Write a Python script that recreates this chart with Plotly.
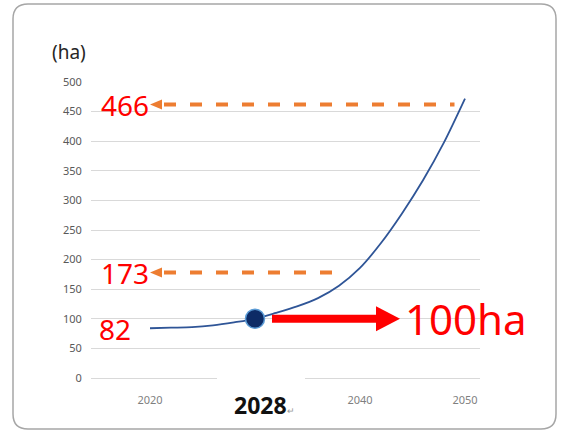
import plotly.graph_objects as go

# ---- data ----
years = [2020, 2022, 2024, 2026, 2028, 2030, 2032, 2034, 2036, 2038, 2040, 2042, 2044, 2046, 2048, 2050]
area_ha = [84, 85, 86, 89, 94, 100, 110, 121, 135, 156, 186, 228, 278, 334, 398, 472]
x_tick_years = [2020, 2040, 2050]
y_ticks = [0, 50, 100, 150, 200, 250, 300, 350, 400, 450, 500]

target_year = 2030
target_value = 100
target_label = "100ha"
milestone_label = "2028"

callout_labels = ["466", "173"]
callout_levels = [462, 178]
callout_ends = [2049.0, 2038.4]
start_label = "82"
start_level = 82
unit_label = "(ha)"

# ---- layout geometry (pixels) ----
W, H = 563, 432
L, R, T, B = 91, 480, 82, 378
PX_PER_YEAR = 10.5
x_min = 2020 - (150 - L) / PX_PER_YEAR
x_max = 2050 + (R - 465) / PX_PER_YEAR


def px_x(p):
    return (p - L) / (R - L)


def px_y(p):
    return 1 - (p - T) / (B - T)


RED = "#ff0000"
ORANGE = "#ed7d31"
FONT = "Noto Sans"

fig = go.Figure()
fig.add_trace(go.Scatter(
    x=years, y=area_ha, mode="lines",
    line=dict(color="#2f5597", width=1.8, shape="spline", smoothing=0.8),
    hoverinfo="skip", showlegend=False))
fig.add_trace(go.Scatter(
    x=[target_year], y=[target_value], mode="markers",
    marker=dict(size=19, color="#0d2b66", line=dict(color="#5b9bd5", width=1.5)),
    showlegend=False))

shapes = []
# rounded border
x0, x1 = px_x(13), px_x(556)
y0, y1 = px_y(429), px_y(4)
rx, ry = 15 / (R - L), 15 / (B - T)
border = (f"M{x0+rx},{y1} L{x1-rx},{y1} Q{x1},{y1} {x1},{y1-ry} "
          f"L{x1},{y0+ry} Q{x1},{y0} {x1-rx},{y0} L{x0+rx},{y0} "
          f"Q{x0},{y0} {x0},{y0+ry} L{x0},{y1-ry} Q{x0},{y1} {x0+rx},{y1} Z")
shapes.append(dict(type="path", xref="paper", yref="paper", path=border,
                   line=dict(color="#a6a6a6", width=1.5), layer="below"))
# white box hiding the original 2030 label
shapes.append(dict(type="rect", xref="paper", yref="paper",
                   x0=px_x(217), x1=px_x(305), y0=px_y(425), y1=px_y(373),
                   fillcolor="white", line=dict(width=0), layer="above"))
# orange dashed callouts
for lvl, xe in zip(callout_levels, callout_ends):
    shapes.append(dict(type="line", xref="x", yref="y",
                       x0=2020 + 14 / PX_PER_YEAR, x1=xe, y0=lvl, y1=lvl,
                       line=dict(color=ORANGE, width=4, dash="12px,14px"), layer="above"))
    shapes.append(dict(type="path", xref="x", yref="y", xsizemode="pixel", ysizemode="pixel",
                       xanchor=2020, yanchor=lvl, path="M0,0 L12,5 L12,-5 Z",
                       fillcolor=ORANGE, line=dict(width=0), layer="above"))
# red arrow
shapes.append(dict(type="line", xref="x", yref="y", xsizemode="pixel",
                   xanchor=target_year, x0=17, x1=124, y0=target_value, y1=target_value,
                   line=dict(color=RED, width=8), layer="above"))
shapes.append(dict(type="path", xref="x", yref="y", xsizemode="pixel", ysizemode="pixel",
                   xanchor=target_year, yanchor=target_value,
                   path="M121,12.5 L145,0 L121,-12.5 Z",
                   fillcolor=RED, line=dict(width=0), layer="above"))

annotations = []
for lab, lvl in zip(callout_labels, callout_levels):
    annotations.append(dict(x=2020, y=lvl, xref="x", yref="y", xshift=-51, xanchor="left",
                            yanchor="middle", text=lab, showarrow=False,
                            font=dict(family=FONT, size=28, color=RED)))
annotations.append(dict(x=2020, y=start_level, xref="x", yref="y", xshift=-53, xanchor="left",
                        yanchor="middle", text=start_label, showarrow=False,
                        font=dict(family=FONT, size=28, color=RED)))
annotations.append(dict(x=target_year, y=target_value, xref="x", yref="y", xshift=148,
                        xanchor="left", yanchor="middle", text=target_label, showarrow=False,
                        font=dict(family=FONT, size=42, color=RED)))
annotations.append(dict(x=px_x(69), y=px_y(52), xref="paper", yref="paper",
                        xanchor="center", yanchor="middle",
                        text=unit_label, showarrow=False,
                        font=dict(family=FONT, size=19, color="#262626")))
annotations.append(dict(x=px_x(264), y=px_y(405), xref="paper", yref="paper",
                        xanchor="center", yanchor="middle",
                        text="<b>" + milestone_label + "</b><span style='font-size:9px;color:#999'>↵</span>",
                        showarrow=False,
                        font=dict(family=FONT, size=23, color="#111111")))

fig.update_layout(
    width=W, height=H,
    margin=dict(l=L, r=W - R, t=T, b=H - B),
    paper_bgcolor="white", plot_bgcolor="white",
    shapes=shapes, annotations=annotations,
    xaxis=dict(range=[x_min, x_max], tickvals=x_tick_years, ticktext=[str(v) for v in x_tick_years],
               showgrid=False, zeroline=False, showline=False,
               ticks="outside", ticklen=12, tickcolor="rgba(0,0,0,0)",
               tickfont=dict(family=FONT, size=11, color="#7f7f7f")),
    yaxis=dict(range=[0, 500], tickvals=y_ticks, showgrid=True, gridcolor="#d9d9d9", gridwidth=1,
               zeroline=True, zerolinecolor="#d9d9d9", zerolinewidth=1, showline=False,
               ticks="outside", ticklen=6, tickcolor="rgba(0,0,0,0)",
               tickfont=dict(family=FONT, size=11, color="#595959")),
)

fig.write_html("out.html")
